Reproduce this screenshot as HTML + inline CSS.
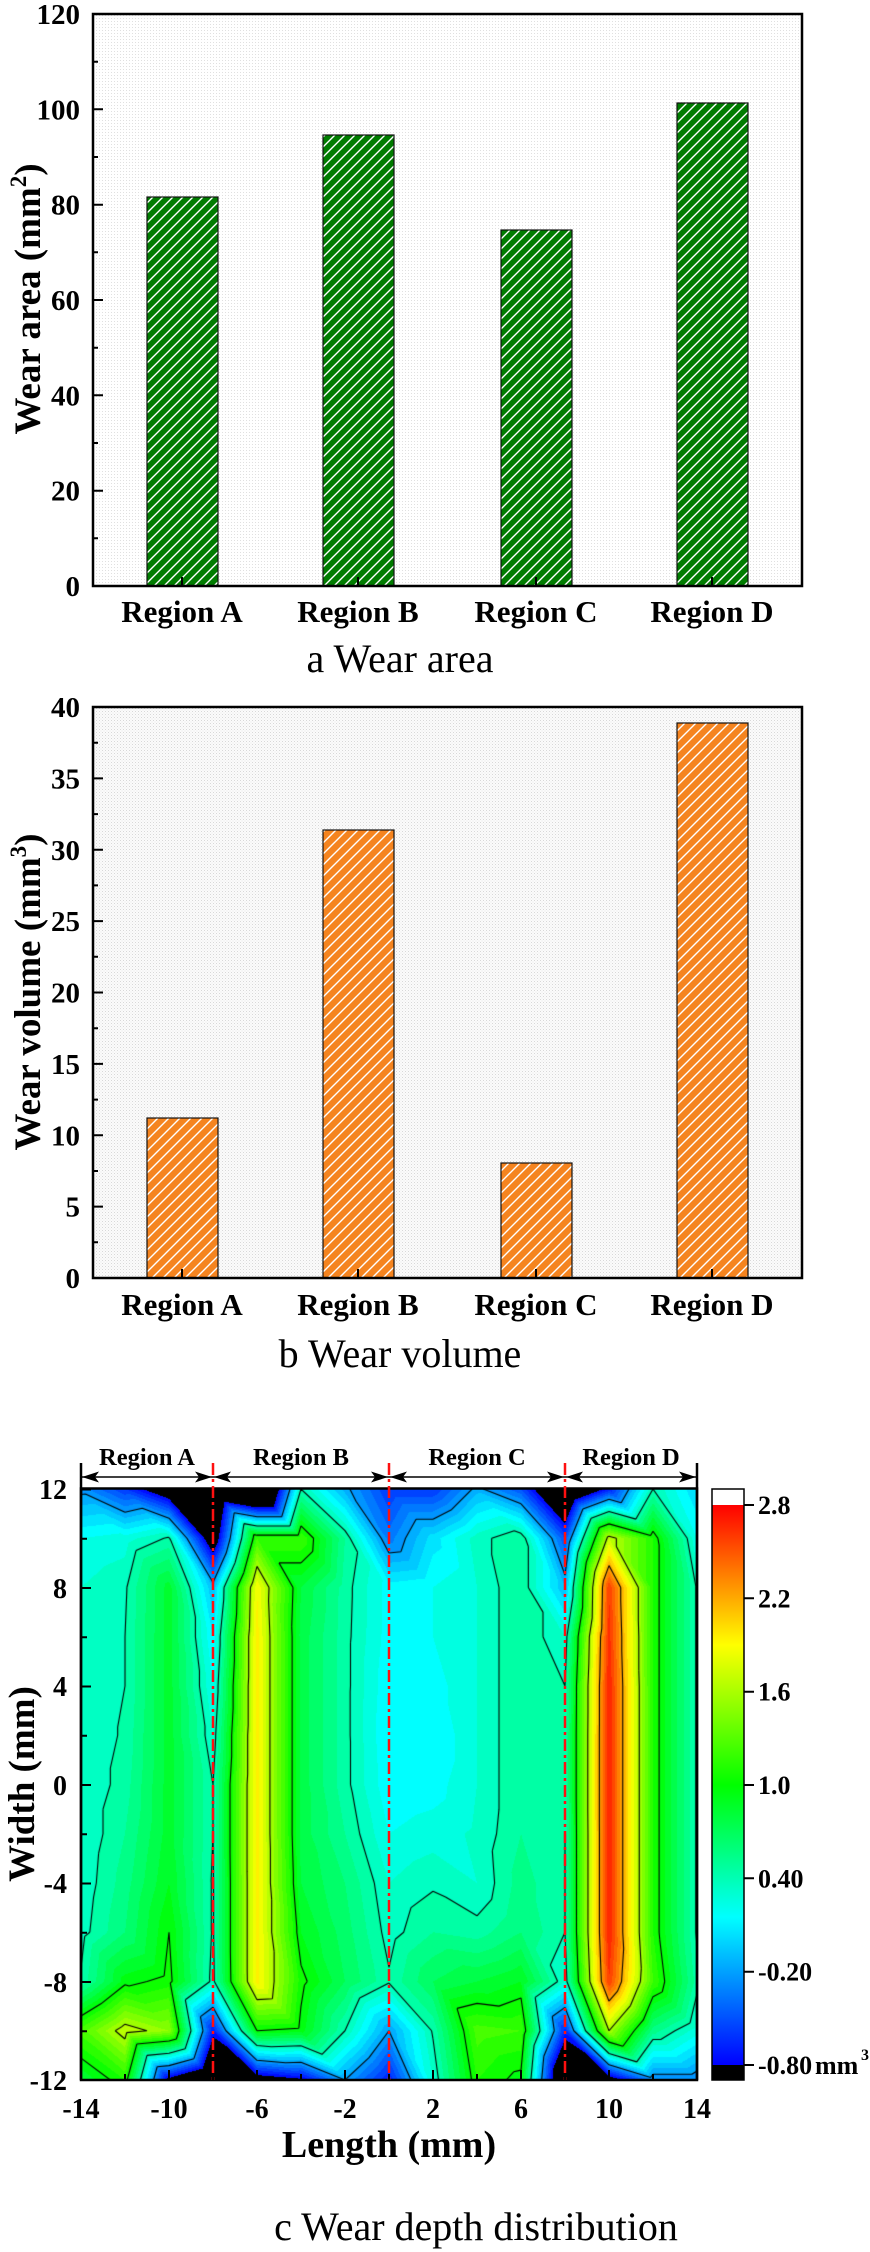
<!DOCTYPE html>
<html><head><meta charset="utf-8">
<style>
html,body{margin:0;padding:0;background:#fff;}
#wrap{position:relative;width:870px;height:2252px;overflow:hidden;background:#fff;}
#fb{position:absolute;left:81px;top:1489px;width:616px;height:591px;
background:linear-gradient(to right,#00ffc8 0%,#00ff70 14%,#00ffe0 22%,#eeff00 29%,#40ff40 36%,#00ffa0 44%,#00ffff 55%,#00ffb0 70%,#00ffff 76%,#ff4000 86%,#80ff00 93%,#00ffb0 100%);}
#cv{position:absolute;left:81px;top:1489px;width:616px;height:591px;}
#sv{position:absolute;left:0;top:0;}
</style></head><body>
<div id="wrap">
<div id="fb"></div>
<canvas id="cv" width="616" height="591"></canvas>
<svg id="sv" width="870" height="2252" viewBox="0 0 870 2252" xmlns="http://www.w3.org/2000/svg" font-family="'Liberation Serif', 'Times New Roman', serif">
<defs>
<pattern id="dotA" width="3" height="3" patternUnits="userSpaceOnUse"><rect width="3" height="3" fill="#fff"/><rect width="1" height="1" fill="#e0e0e0"/></pattern>
<pattern id="dotB" width="3" height="3" patternUnits="userSpaceOnUse"><rect width="3" height="3" fill="#fbfbfb"/><rect width="1" height="1" fill="#d8d8d8"/><rect x="1.5" y="1.5" width="1" height="1" fill="#e8e8e8"/></pattern>
<pattern id="hatchG" width="10" height="10" patternUnits="userSpaceOnUse"><rect width="10" height="10" fill="#007c00"/><path d="M-1,1 L1,-1 M0,10 L10,0 M9,11 L11,9" stroke="#fff" stroke-width="1.4"/></pattern>
<pattern id="hatchO" width="11" height="11" patternUnits="userSpaceOnUse"><rect width="11" height="11" fill="#f5841f"/><path d="M-1,1 L1,-1 M0,11 L11,0 M10,12 L12,10" stroke="#fff" stroke-width="1.4"/></pattern>
<linearGradient id="cbg" x1="0" y1="0" x2="0" y2="1">
<stop offset="0" stop-color="#ff0000"/><stop offset="0.25" stop-color="#ffff00"/><stop offset="0.5" stop-color="#00ff00"/><stop offset="0.736" stop-color="#00ffff"/><stop offset="1" stop-color="#0000ff"/>
</linearGradient>
</defs>

<!-- ============ Chart a ============ -->
<rect x="93" y="14" width="709" height="572" fill="url(#dotA)"/>
<rect x="147" y="197" width="71" height="389" fill="url(#hatchG)" stroke="#111" stroke-width="1.2"/>
<rect x="323" y="135" width="71" height="451" fill="url(#hatchG)" stroke="#111" stroke-width="1.2"/>
<rect x="501" y="230" width="71" height="356" fill="url(#hatchG)" stroke="#111" stroke-width="1.2"/>
<rect x="677" y="103" width="71" height="483" fill="url(#hatchG)" stroke="#111" stroke-width="1.2"/>
<rect x="93" y="14" width="709" height="572" fill="none" stroke="#000" stroke-width="2.5"/>
<path d="M93,586h10M93,490.7h10M93,395.3h10M93,300h10M93,204.7h10M93,109.3h10M93,14h10
M93,538.3h5M93,443h5M93,347.7h5M93,252.3h5M93,157h5M93,61.7h5
M182,586v-9M358,586v-9M536,586v-9M712,586v-9" stroke="#000" stroke-width="2"/>
<g font-size="29" font-weight="bold" text-anchor="end">
<text x="80" y="596">0</text><text x="80" y="500.7">20</text><text x="80" y="405.3">40</text><text x="80" y="310">60</text><text x="80" y="214.7">80</text><text x="80" y="119.3">100</text><text x="80" y="24">120</text>
</g>
<g font-size="31" font-weight="bold" text-anchor="middle">
<text x="182" y="622">Region A</text><text x="358" y="622">Region B</text><text x="536" y="622">Region C</text><text x="712" y="622">Region D</text>
</g>
<text transform="translate(40,299) rotate(-90)" text-anchor="middle" font-size="37" font-weight="bold">Wear area (mm<tspan font-size="23" dy="-14">2</tspan><tspan dy="14">)</tspan></text>
<text x="400" y="672" text-anchor="middle" font-size="40">a Wear area</text>

<!-- ============ Chart b ============ -->
<rect x="93" y="707" width="709" height="571" fill="url(#dotB)"/>
<rect x="147" y="1118" width="71" height="160" fill="url(#hatchO)" stroke="#111" stroke-width="1.2"/>
<rect x="323" y="830" width="71" height="448" fill="url(#hatchO)" stroke="#111" stroke-width="1.2"/>
<rect x="501" y="1163" width="71" height="115" fill="url(#hatchO)" stroke="#111" stroke-width="1.2"/>
<rect x="677" y="723" width="71" height="555" fill="url(#hatchO)" stroke="#111" stroke-width="1.2"/>
<rect x="93" y="707" width="709" height="571" fill="none" stroke="#000" stroke-width="2.5"/>
<path d="M93,1278h10M93,1206.6h10M93,1135.3h10M93,1063.9h10M93,992.5h10M93,921.1h10M93,849.8h10M93,778.4h10M93,707h10
M93,1242.3h5M93,1171h5M93,1099.6h5M93,1028.2h5M93,956.8h5M93,885.4h5M93,814.1h5M93,742.7h5
M182,1278v-9M358,1278v-9M536,1278v-9M712,1278v-9" stroke="#000" stroke-width="2"/>
<g font-size="29" font-weight="bold" text-anchor="end">
<text x="80" y="1288">0</text><text x="80" y="1216.6">5</text><text x="80" y="1145.3">10</text><text x="80" y="1073.9">15</text><text x="80" y="1002.5">20</text><text x="80" y="931.1">25</text><text x="80" y="859.8">30</text><text x="80" y="788.4">35</text><text x="80" y="717">40</text>
</g>
<g font-size="31" font-weight="bold" text-anchor="middle">
<text x="182" y="1315">Region A</text><text x="358" y="1315">Region B</text><text x="536" y="1315">Region C</text><text x="712" y="1315">Region D</text>
</g>
<text transform="translate(40,992) rotate(-90)" text-anchor="middle" font-size="37" font-weight="bold">Wear volume (mm<tspan font-size="23" dy="-14">3</tspan><tspan dy="14">)</tspan></text>
<text x="400" y="1367" text-anchor="middle" font-size="40">b Wear volume</text>

<!-- ============ Chart c ============ -->
<path d="M81,1477H697" stroke="#000" stroke-width="1.6"/>
<g fill="#000">
<polygon points="82,1477 99,1471.5 95,1477 99,1482.5"/>
<polygon points="212,1477 195,1471.5 199,1477 195,1482.5"/>
<polygon points="214,1477 231,1471.5 227,1477 231,1482.5"/>
<polygon points="388,1477 371,1471.5 375,1477 371,1482.5"/>
<polygon points="390,1477 407,1471.5 403,1477 407,1482.5"/>
<polygon points="564,1477 547,1471.5 551,1477 547,1482.5"/>
<polygon points="566,1477 583,1471.5 579,1477 583,1482.5"/>
<polygon points="696,1477 679,1471.5 683,1477 679,1482.5"/>
</g>
<g font-size="24.5" font-weight="bold" text-anchor="middle">
<text x="147" y="1465">Region A</text><text x="301" y="1465">Region B</text><text x="477" y="1465">Region C</text><text x="631" y="1465">Region D</text>
</g>
<rect x="81" y="1488.5" width="616" height="591.5" fill="none" stroke="#000" stroke-width="2.5"/>
<path d="M81,1463V2080M697,1463V2080" stroke="#000" stroke-width="2.5"/>
<path d="M213,1463V2080M389,1463V2080M565,1463V2080" stroke="#ff1010" stroke-width="2.5" stroke-dasharray="12 4 3 4"/>
<path d="M81,1489.5h10M81,1588h10M81,1686.5h10M81,1785h10M81,1883.5h10M81,1982h10M81,2080h10
M81,1538.8h6M81,1637.3h6M81,1735.8h6M81,1834.3h6M81,1932.8h6M81,2031.3h6
M169,2080v-10M257,2080v-10M345,2080v-10M433,2080v-10M521,2080v-10M609,2080v-10
M125,2080v-6M213,2080v-6M301,2080v-6M389,2080v-6M477,2080v-6M565,2080v-6M653,2080v-6" stroke="#000" stroke-width="2"/>
<g font-size="28" font-weight="bold" text-anchor="end">
<text x="67" y="1499">12</text><text x="67" y="1598">8</text><text x="67" y="1696">4</text><text x="67" y="1795">0</text><text x="67" y="1893">-4</text><text x="67" y="1992">-8</text><text x="67" y="2090">-12</text>
</g>
<g font-size="28" font-weight="bold" text-anchor="middle">
<text x="81" y="2118">-14</text><text x="169" y="2118">-10</text><text x="257" y="2118">-6</text><text x="345" y="2118">-2</text><text x="433" y="2118">2</text><text x="521" y="2118">6</text><text x="609" y="2118">10</text><text x="697" y="2118">14</text>
</g>
<text transform="translate(34,1784) rotate(-90)" text-anchor="middle" font-size="37" font-weight="bold">Width (mm)</text>
<text x="389" y="2157" text-anchor="middle" font-size="38" font-weight="bold">Length (mm)</text>
<rect x="712" y="1489" width="32" height="16" fill="#fff"/>
<rect x="712" y="1505" width="32" height="560" fill="url(#cbg)"/>
<rect x="712" y="2065" width="32" height="15" fill="#000"/>
<rect x="712" y="1489" width="32" height="591" fill="none" stroke="#000" stroke-width="1.5"/>
<path d="M744,1505h10M744,1598.3h10M744,1691.7h10M744,1785h10M744,1878.3h10M744,1971.7h10M744,2065h10" stroke="#000" stroke-width="2"/>
<g font-size="26" font-weight="bold">
<text x="758" y="1514">2.8</text><text x="758" y="1607.3">2.2</text><text x="758" y="1700.7">1.6</text><text x="758" y="1794">1.0</text><text x="758" y="1887.3">0.40</text><text x="758" y="1980.7">-0.20</text><text x="758" y="2074">-0.80</text>
<text x="815" y="2074">mm</text><text x="861" y="2060" font-size="16">3</text>
</g>
<text x="476" y="2240" text-anchor="middle" font-size="40">c Wear depth distribution</text>
</svg>
</div>
<script>
(function(){
var cols=[
[-0.25,0.2,0.3,0.3,0.3,0.3,0.3,0.3,0.32,0.35,0.42,1.25,0.8],
[-0.6,0.25,0.38,0.4,0.4,0.42,0.45,0.5,0.55,0.6,0.95,1.7,1.1],
[-1.1,0.42,0.85,0.85,0.85,0.85,0.85,0.85,0.9,1.0,1.05,1.5,-0.9],
[-1.5,-1.1,-0.1,0.1,0.2,0.3,0.4,0.4,0.38,0.38,0.35,-0.7,-1.5],
[-2.0,1.2,1.9,1.95,1.95,1.95,1.95,1.95,1.95,1.95,1.95,1.0,-1.0],
[0.4,1.2,0.8,0.76,0.76,0.76,0.76,0.76,0.8,0.9,1.05,0.95,-0.85],
[-0.15,0.5,0.45,0.44,0.44,0.44,0.44,0.5,0.6,0.65,0.7,0.4,-0.2],
[-0.6,-0.35,0.15,0.15,0.12,0.1,0.12,0.2,0.3,0.35,0.42,-0.2,-0.7],
[-0.6,0.05,0.2,0.2,0.15,0.1,0.15,0.25,0.38,0.5,0.7,0.42,0.3],
[-0.15,0.35,0.3,0.3,0.3,0.3,0.3,0.32,0.3,0.45,0.8,1.25,1.1],
[-0.5,0.5,0.5,0.5,0.5,0.5,0.5,0.5,0.55,0.6,0.9,1.2,0.95],
[-1.5,-0.5,-0.1,0.3,0.4,0.42,0.42,0.4,0.4,0.4,0.3,-0.65,-1.5],
[-0.7,1.7,2.6,2.65,2.7,2.7,2.7,2.7,2.7,2.7,2.6,1.6,-1.0],
[0.4,1.1,1.1,1.1,1.1,1.1,1.1,1.1,1.1,1.1,1.2,0.55,-0.3],
[0.0,0.2,0.38,0.38,0.38,0.38,0.38,0.38,0.38,0.38,0.45,0.25,-0.3]
];
var W=616,H=591,NX=14,NY=12;
var cv=document.getElementById('cv');
if(!cv||!cv.getContext)return;
var ctx=cv.getContext('2d');
function cm(c){
 var t;
 if(c<=0.15){t=(c+0.8)/0.95;return [0,Math.round(255*t),255];}
 if(c<=1.0){t=(c-0.15)/0.85;return [0,255,Math.round(255*(1-t))];}
 if(c<=1.9){t=(c-1.0)/0.9;return [Math.round(255*t),255,0];}
 t=(c-1.9)/0.9;return [255,Math.round(255*(1-t)),0];
}
var lut=[];for(var k=0;k<36;k++)lut.push(cm(-0.8+(k+0.5)*0.1));
var img=ctx.createImageData(W,H),d=img.data;
for(var py=0;py<H;py++){
 var fy=(py+0.5)/H*NY,j=Math.min(NY-1,Math.floor(fy)),v=fy-j;
 for(var px=0;px<W;px++){
  var fx=(px+0.5)/W*NX,i=Math.min(NX-1,Math.floor(fx)),u=fx-i;
  var a=cols[i][j],b=cols[i+1][j],c=cols[i][j+1],e=cols[i+1][j+1],val;
  if(u>=v)val=a+u*(b-a)+v*(e-b);else val=a+v*(c-a)+u*(e-c);
  var r,g,bb;
  if(val<-0.8){r=0;g=0;bb=0;}
  else if(val>=2.8){r=255;g=255;bb=255;}
  else{var kk=Math.floor((val+0.8)*10);if(kk>35)kk=35;if(kk<0)kk=0;var q=lut[kk];r=q[0];g=q[1];bb=q[2];}
  var o=(py*W+px)*4;d[o]=r;d[o+1]=g;d[o+2]=bb;d[o+3]=255;
 }
}
ctx.putImageData(img,0,0);
var sx=W/NX,sy=H/NY;
var LV=[-0.2,0.4,1.0,1.6,2.2];
ctx.beginPath();
function tri(p,L){
 var pts=[];
 for(var m=0;m<3;m++){
  var A=p[m],B=p[(m+1)%3];
  if((A[2]-L)*(B[2]-L)<0){var t=(L-A[2])/(B[2]-A[2]);pts.push([A[0]+t*(B[0]-A[0]),A[1]+t*(B[1]-A[1])]);}
 }
 if(pts.length==2){ctx.moveTo(pts[0][0],pts[0][1]);ctx.lineTo(pts[1][0],pts[1][1]);}
}
for(var i2=0;i2<NX;i2++){
 for(var j2=0;j2<NY;j2++){
  var TL=[i2*sx,j2*sy,cols[i2][j2]],TR=[(i2+1)*sx,j2*sy,cols[i2+1][j2]],
      BL=[i2*sx,(j2+1)*sy,cols[i2][j2+1]],BR=[(i2+1)*sx,(j2+1)*sy,cols[i2+1][j2+1]];
  for(var l=0;l<LV.length;l++){var L=LV[l]+1e-6;tri([TL,TR,BR],L);tri([TL,BL,BR],L);}
 }
}
ctx.lineWidth=1.1;ctx.strokeStyle='#000';ctx.stroke();
})();
</script>
</body></html>
